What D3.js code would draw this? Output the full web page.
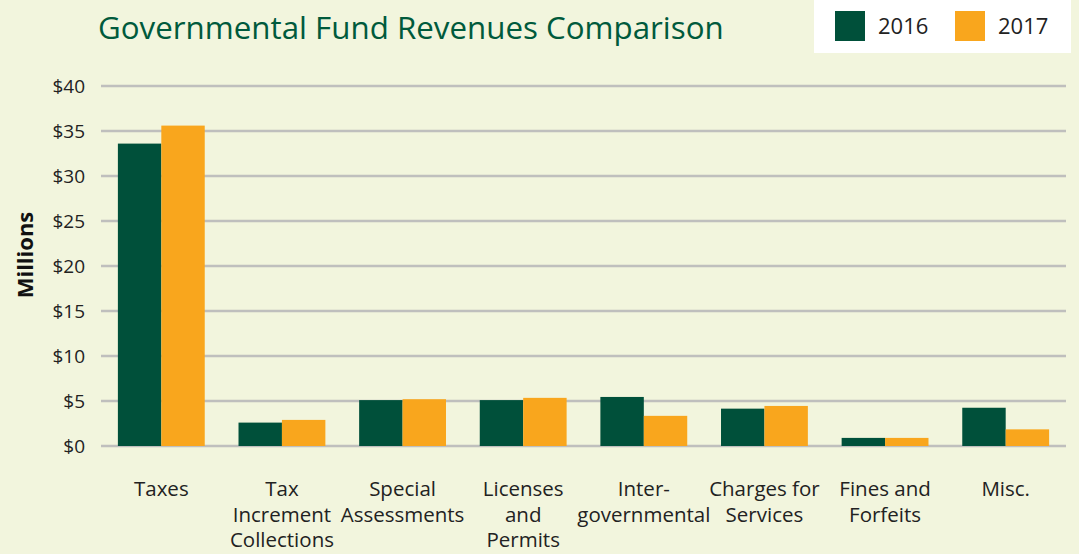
<!DOCTYPE html>
<html>
<head>
<meta charset="utf-8">
<script src="https://cdn.jsdelivr.net/npm/d3@7"></script>
<style>
  body { margin: 0; background: #f2f5dd; }
  svg { display: block; font-family: "Open Sans", "Noto Sans", sans-serif; }
</style>
</head>
<body>
<svg id="chart" width="1079" height="554"></svg>
<script>
const categories = [
  ["Taxes"],
  ["Tax", "Increment", "Collections"],
  ["Special", "Assessments"],
  ["Licenses", "and", "Permits"],
  ["Inter-", "governmental"],
  ["Charges for", "Services"],
  ["Fines and", "Forfeits"],
  ["Misc."],
];
const years = ["2016", "2017"];
const values2016 = [33.6, 2.6, 5.1, 5.1, 5.45, 4.15, 0.9, 4.25];
const values2017 = [35.6, 2.9, 5.2, 5.35, 3.35, 4.45, 0.9, 1.85];
const yTicks = [0, 5, 10, 15, 20, 25, 30, 35, 40];

const colors = { "2016": "#00503a", "2017": "#f9a61d" };

const svg = d3.select("#chart");
const W = 1079, H = 554;
const margin = { top: 86, right: 13, bottom: 108, left: 101 };

svg.append("rect").attr("width", W).attr("height", H).attr("fill", "#f2f5dd");

const x = d3.scaleBand()
  .domain(d3.range(categories.length))
  .range([margin.left, W - margin.right])
  .paddingInner(0.28)
  .paddingOuter(0.14);

const xs = d3.scaleBand().domain(years).range([0, x.bandwidth()]);

const y = d3.scaleLinear().domain([0, 40]).range([H - margin.bottom, margin.top]);

// gridlines
svg.append("g")
  .selectAll("line")
  .data(yTicks)
  .join("line")
  .attr("x1", margin.left)
  .attr("x2", W - margin.right)
  .attr("y1", (d) => y(d))
  .attr("y2", (d) => y(d))
  .attr("stroke", "#bfbfbd")
  .attr("stroke-width", 2.4);

// y tick labels
svg.append("g")
  .selectAll("text")
  .data(yTicks)
  .join("text")
  .attr("x", 85)
  .attr("y", (d) => y(d))
  .attr("dy", "0.35em")
  .attr("text-anchor", "end")
  .attr("font-size", 19)
  .attr("fill", "#222")
  .text((d) => "$" + d);

// bars
const series = [values2016, values2017];
const groups = svg.append("g")
  .selectAll("g")
  .data(categories)
  .join("g")
  .attr("transform", (d, i) => `translate(${x(i)},0)`);

groups.selectAll("rect")
  .data((d, i) => years.map((yr, k) => ({ yr, v: series[k][i] })))
  .join("rect")
  .attr("x", (d) => xs(d.yr))
  .attr("width", xs.bandwidth())
  .attr("y", (d) => y(d.v))
  .attr("height", (d) => y(0) - y(d.v))
  .attr("fill", (d) => colors[d.yr]);

// category labels
const labels = svg.append("g")
  .selectAll("text")
  .data(categories)
  .join("text")
  .attr("x", (d, i) => x(i) + x.bandwidth() / 2)
  .attr("y", 496)
  .attr("text-anchor", "middle")
  .attr("font-size", 20.5)
  .attr("fill", "#222");
labels.selectAll("tspan")
  .data((d) => d)
  .join("tspan")
  .attr("x", function () { return this.parentNode.getAttribute("x"); })
  .attr("dy", (d, i) => (i === 0 ? 0 : 25.5))
  .text((d) => d);

// y axis title
svg.append("text")
  .attr("transform", "translate(33,255) rotate(-90)")
  .attr("text-anchor", "middle")
  .attr("font-size", 22)
  .attr("font-weight", "bold")
  .attr("fill", "#111")
  .text("Millions");

// title
svg.append("text")
  .attr("x", 98)
  .attr("y", 39)
  .attr("font-size", 31.3)
  .attr("fill", "#005a3c")
  .text("Governmental Fund Revenues Comparison");

// legend
const legend = svg.append("g");
legend.append("rect")
  .attr("x", 814).attr("y", 0).attr("width", 257).attr("height", 53)
  .attr("fill", "#ffffff");
const li = legend.selectAll("g")
  .data(years)
  .join("g")
  .attr("transform", (d, i) => `translate(${835 + i * 120},11)`);
li.append("rect").attr("width", 30).attr("height", 30).attr("fill", (d) => colors[d]);
li.append("text")
  .attr("x", 43).attr("y", 15).attr("dy", "0.35em")
  .attr("font-size", 22)
  .attr("fill", "#222")
  .text((d) => d);
</script>
</body>
</html>
